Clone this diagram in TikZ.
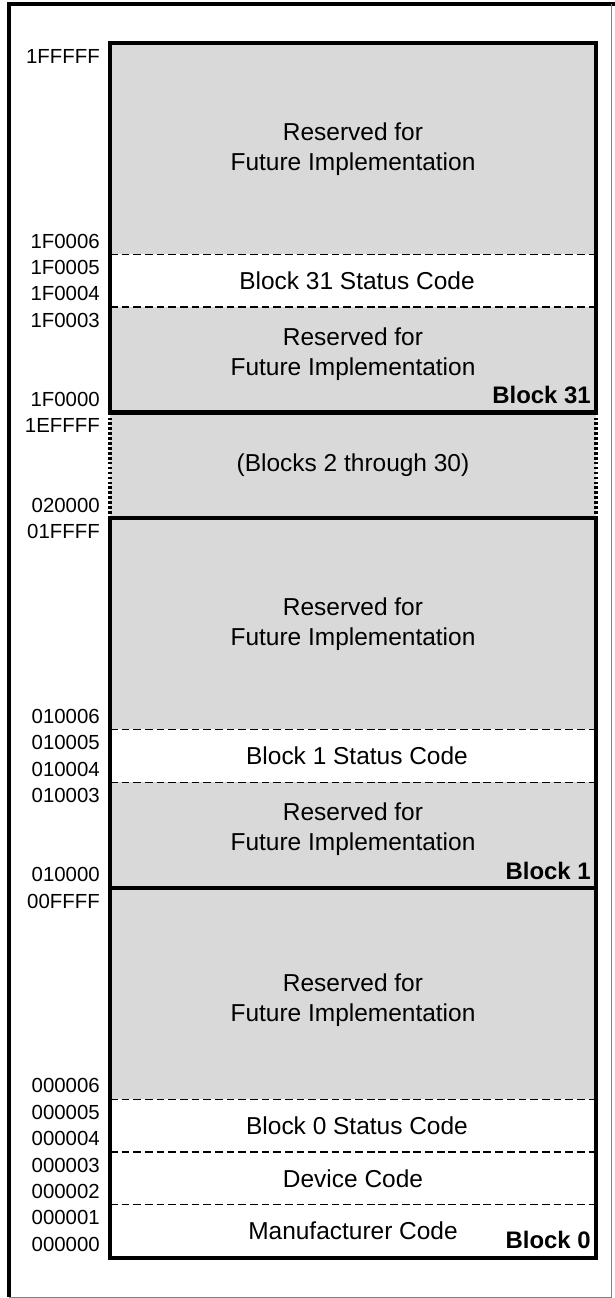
\documentclass[tikz,border=0pt]{standalone}
\usepackage{fontspec}
\setmainfont{Liberation Sans}
\usepackage{tikz}

\begin{document}
\begin{tikzpicture}[x=0.025cm, y=-0.025cm]
            % Define styles
            \tikzstyle{addr} = [anchor=east, inner sep=0pt, font=\fontsize{14.5}{15}\selectfont]
            \tikzstyle{field} = [align=center, inner sep=0pt, font=\fontsize{17.4}{21.5}\selectfont]
            \tikzstyle{blockname} = [anchor=east, inner sep=0pt, font=\fontsize{17}{18}\selectfont\bfseries]
            \tikzstyle{reserved} = [fill=black!15]
            \tikzstyle{frame} = [draw, line width=3pt]
            \tikzstyle{sep} = [draw, line width=0.8pt, dash pattern=on 5.5pt off 2.8pt]
            \tikzstyle{gap} = [draw, line width=2.3pt, dash pattern=on 1.9pt off 1.6pt]

            \useasboundingbox (0,0) rectangle (615,1298);

            % Outer frame
            \draw[line width=2.2pt] (9,1297) -- (9,4) -- (615,4);
            \draw[line width=0.5pt, gray] (611,4) -- (611,1297) -- (9,1297);

            % Shaded (reserved) areas
            \fill[reserved] (110,43) rectangle (596,254.2);
            \fill[reserved] (110,307) rectangle (596,412.6);
            \fill[reserved] (110,412.6) rectangle (596,518.2);
            \fill[reserved] (110,518.2) rectangle (596,729.4);
            \fill[reserved] (110,782.2) rectangle (596,888);
            \fill[reserved] (110,888) rectangle (596,1099.2);

            % Field borders
            \draw[sep] (110,254.2) -- (596,254.2);
            \draw[sep] (110,307) -- (596,307);
            \draw[sep] (110,729.4) -- (596,729.4);
            \draw[sep] (110,782.2) -- (596,782.2);
            \draw[sep] (110,1099.2) -- (596,1099.2);
            \draw[sep] (110,1152) -- (596,1152);
            \draw[sep] (110,1204.8) -- (596,1204.8);

            % Blocks
            \draw[frame] (110,43) rectangle (596,412.6);
            \draw[gap] (110,412.6) -- (110,518.2);
            \draw[gap] (596,412.6) -- (596,518.2);
            \draw[frame] (110,518.2) rectangle (596,888);
            \draw[frame] (110,888) rectangle (596,1257.6);

            % Block 31 fields
            \node[field] (res31hi) at (353,149) {Reserved for\\Future Implementation};
            \node[field] (stat31) at (357,280.6) {Block 31 Status Code};
            \node[field] (res31lo) at (353,354) {Reserved for\\Future Implementation};
            \node[blockname] (blk31) at (591,395) {Block 31};

            % Blocks 2 to 30
            \node[field] (mid) at (353,465.4) {(Blocks 2 through 30)};

            % Block 1 fields
            \node[field] (res1hi) at (353,624) {Reserved for\\Future Implementation};
            \node[field] (stat1) at (357,755.8) {Block 1 Status Code};
            \node[field] (res1lo) at (353,829) {Reserved for\\Future Implementation};
            \node[blockname] (blk1) at (591,871) {Block 1};

            % Block 0 fields
            \node[field] (res0hi) at (353,1000) {Reserved for\\Future Implementation};
            \node[field] (stat0) at (357,1125.6) {Block 0 Status Code};
            \node[field] (dev) at (353,1178.4) {Device Code};
            \node[field] (man) at (353,1231.2) {Manufacturer Code};
            \node[blockname] (blk0) at (591,1240) {Block 0};

            % Addresses
            \node[addr] (a1FFFFF) at (100,56.2) {1FFFFF};
            \node[addr] (a1F0006) at (100,241) {1F0006};
            \node[addr] (a1F0005) at (100,267.4) {1F0005};
            \node[addr] (a1F0004) at (100,293.8) {1F0004};
            \node[addr] (a1F0003) at (100,320.2) {1F0003};
            \node[addr] (a1F0000) at (100,399.4) {1F0000};
            \node[addr] (a1EFFFF) at (100,425.8) {1EFFFF};
            \node[addr] (a020000) at (100,505) {020000};
            \node[addr] (a01FFFF) at (100,531.4) {01FFFF};
            \node[addr] (a010006) at (100,716.2) {010006};
            \node[addr] (a010005) at (100,742.6) {010005};
            \node[addr] (a010004) at (100,769) {010004};
            \node[addr] (a010003) at (100,795.4) {010003};
            \node[addr] (a010000) at (100,874.6) {010000};
            \node[addr] (a00FFFF) at (100,901) {00FFFF};
            \node[addr] (a000006) at (100,1085.8) {000006};
            \node[addr] (a000005) at (100,1112.2) {000005};
            \node[addr] (a000004) at (100,1138.6) {000004};
            \node[addr] (a000003) at (100,1165) {000003};
            \node[addr] (a000002) at (100,1191.4) {000002};
            \node[addr] (a000001) at (100,1217.8) {000001};
            \node[addr] (a000000) at (100,1244.2) {000000};
\end{tikzpicture}
\end{document}
